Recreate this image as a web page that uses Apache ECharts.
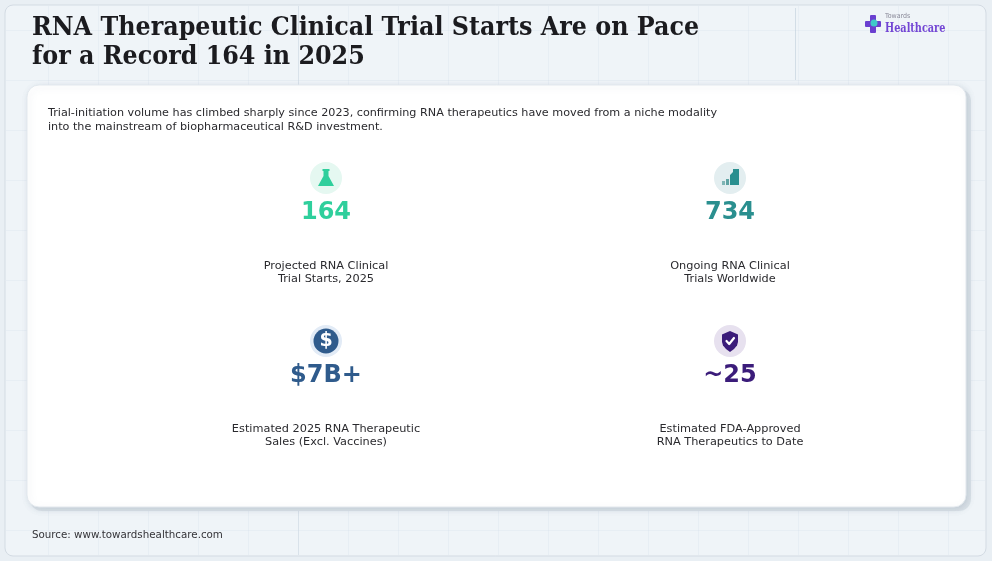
<!DOCTYPE html>
<html>
<head>
<meta charset="utf-8">
<script src="https://cdn.jsdelivr.net/npm/echarts@6/dist/echarts.min.js"></script>
<style>
html,body{margin:0;padding:0;background:#e9eff4;}
#chart{width:992px;height:561px;}
</style>
</head>
<body>
<div id="chart"></div>
<script>
// ---- data ----
var titleLines = ['RNA Therapeutic Clinical Trial Starts Are on Pace', 'for a Record 164 in 2025'];
var subtitleLines = ['Trial-initiation volume has climbed sharply since 2023, confirming RNA therapeutics have moved from a niche modality', 'into the mainstream of biopharmaceutical R&D investment.'];
var kpiValues = ['164', '734', '$7B+', '~25'];
var kpiLabels = [
  ['Projected RNA Clinical', 'Trial Starts, 2025'],
  ['Ongoing RNA Clinical', 'Trials Worldwide'],
  ['Estimated 2025 RNA Therapeutic', 'Sales (Excl. Vaccines)'],
  ['Estimated FDA-Approved', 'RNA Therapeutics to Date']
];
var kpiIcons = ['flask', 'bars', 'dollar', 'shield'];
var kpiColors = ['#2fcf9c', '#2a8f8f', '#2f5b8c', '#3b1c7a'];
var kpiIconBg = ['#e5f8f1', '#e3eef0', '#e2ebf6', '#e7e1ef'];
var sourceText = 'Source: www.towardshealthcare.com';

var W = 992, H = 561;
var chart = echarts.init(document.getElementById('chart'), null, {renderer: 'canvas', width: W, height: H});

var els = [];
// background
els.push({type: 'rect', shape: {x: 0, y: 0, width: W, height: H}, style: {fill: '#e9eff4'}, z: 0});
els.push({type: 'rect', shape: {x: 5, y: 5, width: 981, height: 551, r: 8}, style: {fill: '#eff4f8', stroke: '#d3dbe3', lineWidth: 1}, z: 1});
// faint grid
for (var gx = 48; gx < W; gx += 50) {
  var strong = (gx === 298);
  els.push({type: 'line', shape: {x1: gx + 0.5, y1: 6, x2: gx + 0.5, y2: 555}, style: {stroke: strong ? 'rgba(190,205,218,0.45)' : 'rgba(205,218,230,0.22)', lineWidth: 1}, z: 2, silent: true});
}
for (var gy = 30; gy < H; gy += 50) {
  els.push({type: 'line', shape: {x1: 6, y1: gy + 0.5, x2: 985, y2: gy + 0.5}, style: {stroke: 'rgba(205,218,230,0.22)', lineWidth: 1}, z: 2, silent: true});
}
// title
titleLines.forEach(function (t, i) {
  els.push({type: 'text', x: 32, y: 15 + i * 29, style: {text: t, fill: '#1b1b1f', font: "bold 26.5px 'DejaVu Serif Condensed', 'DejaVu Serif', serif", textVerticalAlign: 'top'}, z: 5});
});
// logo
els.push({type: 'rect', shape: {x: 870, y: 15, width: 6, height: 18, r: 1}, style: {fill: '#6a3fd0'}, z: 5});
els.push({type: 'rect', shape: {x: 865, y: 21, width: 16, height: 6, r: 1}, style: {fill: '#6a3fd0'}, z: 5});
els.push({type: 'circle', shape: {cx: 874, cy: 23, r: 3.5}, style: {fill: '#3ec9c9'}, z: 6});
els.push({type: 'text', x: 885, y: 13, style: {text: 'Towards', fill: '#8a8a99', font: "7px 'DejaVu Sans Condensed', 'DejaVu Sans', sans-serif", textVerticalAlign: 'top'}, z: 5});
els.push({type: 'text', x: 885, y: 21, scaleX: 0.8, originX: 0, originY: 0, style: {text: 'Healthcare', fill: '#7346d4', font: "bold 13.5px 'DejaVu Serif Condensed', 'DejaVu Serif', serif", textVerticalAlign: 'top'}, z: 5});
// header divider
els.push({type: 'line', shape: {x1: 795.5, y1: 8, x2: 795.5, y2: 80}, style: {stroke: 'rgba(190,205,218,0.6)', lineWidth: 1}, z: 3});
// card shadow + card
els.push({type: 'rect', shape: {x: 30, y: 89, width: 941, height: 422, r: 12}, style: {fill: '#dde4ea'}, z: 3});
els.push({type: 'rect', shape: {x: 27, y: 85, width: 939, height: 422, r: 12}, style: {fill: '#ffffff', shadowBlur: 6, shadowColor: 'rgba(120,140,160,0.25)', shadowOffsetX: 2, shadowOffsetY: 2, stroke: '#e3e9ee', lineWidth: 1}, z: 4});
// subtitle
subtitleLines.forEach(function (t, i) {
  els.push({type: 'text', x: 48, y: 108 + i * 14, style: {text: t, fill: '#2a2a2e', font: "11.2px 'DejaVu Sans', sans-serif", textVerticalAlign: 'top'}, z: 5});
});

function iconEls(kind, color) {
  if (kind === 'flask') {
    return [
      {type: 'rect', shape: {x: -3.5, y: -9, width: 7, height: 2}, style: {fill: color}},
      {type: 'polygon', shape: {points: [[-2.5, -7], [2.5, -7], [2.5, -2], [8, 8], [-8, 8], [-2.5, -2]]}, style: {fill: color}}
    ];
  }
  if (kind === 'bars') {
    return [
      {type: 'rect', shape: {x: -8, y: 3, width: 3, height: 4}, style: {fill: '#7fb5b5'}},
      {type: 'rect', shape: {x: -4, y: 1, width: 3, height: 6}, style: {fill: '#5fa3a3'}},
      {type: 'polygon', shape: {points: [[0, 7], [0, -3], [3, -6], [3, -9], [9, -9], [9, 7]]}, style: {fill: color}}
    ];
  }
  if (kind === 'dollar') {
    return [
      {type: 'circle', shape: {cx: 0, cy: 0, r: 12.5}, style: {fill: color}},
      {type: 'text', x: 0, y: 0.5, style: {text: '$', fill: '#ffffff', font: "bold 19px 'DejaVu Sans', sans-serif", textAlign: 'center', textVerticalAlign: 'middle'}}
    ];
  }
  // shield
  return [
    {type: 'polygon', shape: {points: [[0, -10], [8, -6.5], [8, 1], [7, 4.5], [4, 8], [0, 11], [-4, 8], [-7, 4.5], [-8, 1], [-8, -6.5]]}, style: {fill: color}},
    {type: 'polyline', shape: {points: [[-3.5, 0], [-0.8, 3], [4, -3]]}, style: {stroke: '#ffffff', lineWidth: 2.2, fill: null, lineCap: 'round', lineJoin: 'round'}}
  ];
}

var colX = [326, 730];
var rowY = [178, 341];
kpiValues.forEach(function (v, i) {
  var cx = colX[i % 2], cy = rowY[Math.floor(i / 2)];
  els.push({type: 'circle', shape: {cx: cx, cy: cy, r: 16}, style: {fill: kpiIconBg[i]}, z: 5});
  iconEls(kpiIcons[i], kpiColors[i]).forEach(function (e) {
    if (e.shape && e.shape.points) {
      e.shape.points = e.shape.points.map(function (p) { return [p[0] + cx, p[1] + cy]; });
    } else if (e.type === 'rect') {
      e.shape.x += cx; e.shape.y += cy;
    } else if (e.type === 'circle') {
      e.shape.cx += cx; e.shape.cy += cy;
    } else if (e.type === 'text') {
      e.x += cx; e.y += cy;
    }
    e.z = 6;
    els.push(e);
  });
  els.push({type: 'text', x: cx, y: cy + 35, style: {text: v, fill: kpiColors[i], font: "bold 24px 'DejaVu Sans', sans-serif", textAlign: 'center', textVerticalAlign: 'middle'}, z: 6});
  kpiLabels[i].forEach(function (l, j) {
    els.push({type: 'text', x: cx, y: cy + 88 + j * 13.5, style: {text: l, fill: '#2a2a2e', font: "11.3px 'DejaVu Sans', sans-serif", textAlign: 'center', textVerticalAlign: 'middle'}, z: 6});
  });
});
// source
els.push({type: 'text', x: 32, y: 535, style: {text: sourceText, fill: '#333338', font: "10.3px 'DejaVu Sans', sans-serif", textVerticalAlign: 'middle'}, z: 5});

chart.setOption({animation: false, graphic: {elements: els}});
</script>
</body>
</html>
